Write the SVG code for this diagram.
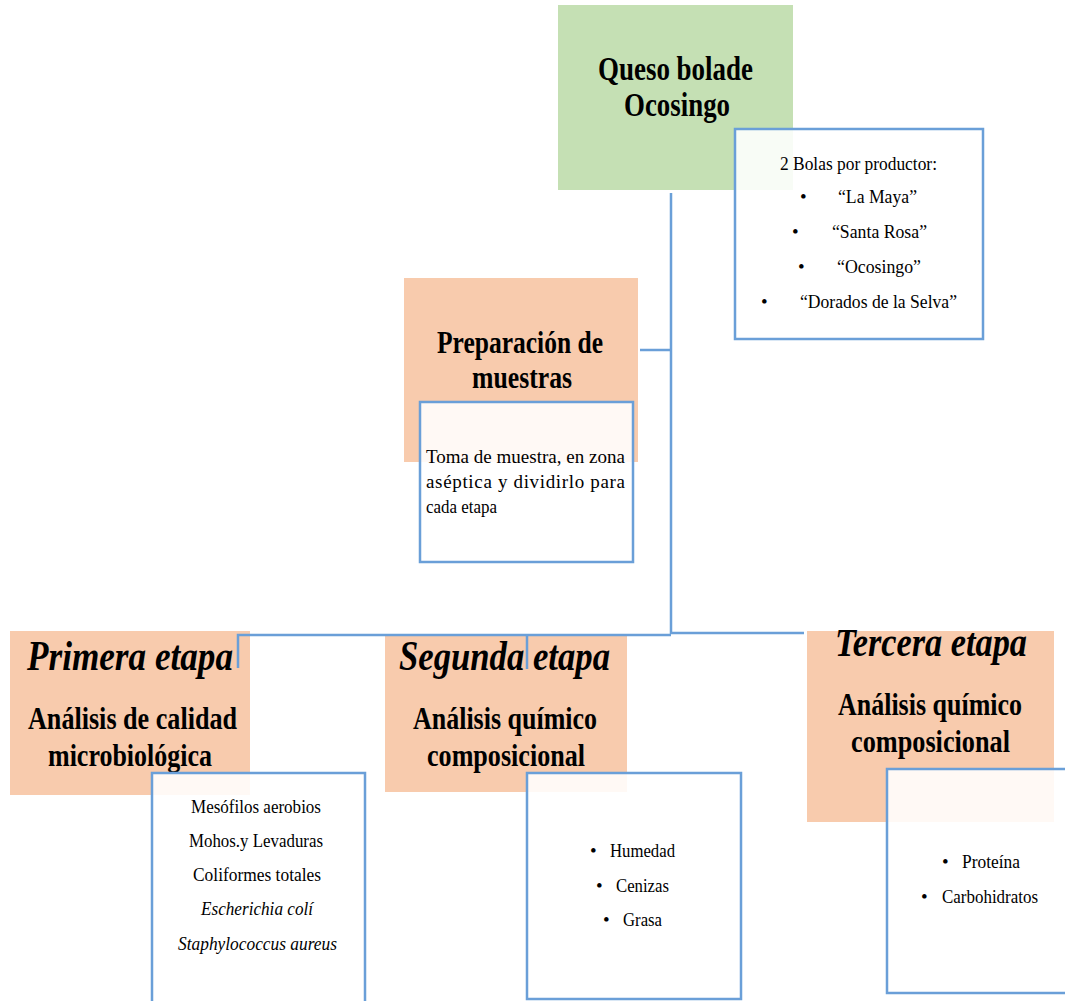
<svg xmlns="http://www.w3.org/2000/svg" width="1065" height="1001" viewBox="0 0 1065 1001">
<style>
.green{fill:#C5E0B4}
.peach{fill:#F8CBAD}
.info{fill:#FFFFFF;fill-opacity:0.88;stroke:#6A9FD8;stroke-width:2.5}
.conn{fill:none;stroke:#6A9FD8;stroke-width:2.5}
text{font-family:"Liberation Serif","Times New Roman",serif;fill:#000}
.t{font-weight:bold;font-size:34px}
.s{font-weight:bold;font-size:32px}
.e{font-weight:bold;font-style:italic;font-size:42px}
.b{font-size:19px}
.bi{font-size:19px;font-style:italic}
</style>
<rect width="1065" height="1001" fill="#FFFFFF"/>
<g id="queso">
<rect class="green" x="558" y="5" width="235" height="185"/>
<text class="t" x="598" y="80" textLength="155" lengthAdjust="spacingAndGlyphs">Queso bolade</text>
<text class="t" x="624" y="116" textLength="106" lengthAdjust="spacingAndGlyphs">Ocosingo</text>
</g>
<g id="productores">
<rect class="info" x="735" y="129" width="248" height="210"/>
<text class="b" x="780" y="170" textLength="157" lengthAdjust="spacingAndGlyphs">2 Bolas por productor:</text>
<text class="b" x="800" y="203">•</text>
<text class="b" x="838" y="203" textLength="79" lengthAdjust="spacingAndGlyphs">“La Maya”</text>
<text class="b" x="792" y="238">•</text>
<text class="b" x="832" y="238" textLength="95" lengthAdjust="spacingAndGlyphs">“Santa Rosa”</text>
<text class="b" x="798" y="273">•</text>
<text class="b" x="837" y="273" textLength="84" lengthAdjust="spacingAndGlyphs">“Ocosingo”</text>
<text class="b" x="761" y="308">•</text>
<text class="b" x="800" y="308" textLength="157" lengthAdjust="spacingAndGlyphs">“Dorados de la Selva”</text>
</g>
<g id="preparacion">
<rect class="peach" x="404" y="278" width="234" height="184"/>
<text class="s" x="437" y="353" textLength="166" lengthAdjust="spacingAndGlyphs">Preparación de</text>
<text class="s" x="472" y="388" textLength="100" lengthAdjust="spacingAndGlyphs">muestras</text>
</g>
<g id="toma">
<rect class="info" x="420" y="402" width="213" height="160"/>
<text class="b" x="426" y="463" textLength="199" lengthAdjust="spacing">Toma de muestra, en zona</text>
<text class="b" x="426" y="488" textLength="199" lengthAdjust="spacing">aséptica y dividirlo para</text>
<text class="b" x="426" y="513" textLength="71" lengthAdjust="spacingAndGlyphs">cada etapa</text>
</g>
<g id="primera">
<rect class="peach" x="10" y="631" width="240" height="164"/>
<text class="e" x="27" y="670" textLength="206" lengthAdjust="spacingAndGlyphs">Primera etapa</text>
<text class="s" x="28" y="729" textLength="209" lengthAdjust="spacingAndGlyphs">Análisis de calidad</text>
<text class="s" x="48" y="766" textLength="164" lengthAdjust="spacingAndGlyphs">microbiológica</text>
</g>
<g id="microbiologia">
<rect class="info" x="152" y="773" width="213" height="240"/>
<text class="b" x="191" y="813" textLength="130" lengthAdjust="spacingAndGlyphs">Mesófilos aerobios</text>
<text class="b" x="189" y="847" textLength="134" lengthAdjust="spacingAndGlyphs">Mohos.y Levaduras</text>
<text class="b" x="193" y="881" textLength="128" lengthAdjust="spacingAndGlyphs">Coliformes totales</text>
<text class="bi" x="201" y="915" textLength="112" lengthAdjust="spacingAndGlyphs">Escherichia colí</text>
<text class="bi" x="178" y="950" textLength="159" lengthAdjust="spacingAndGlyphs">Staphylococcus aureus</text>
</g>
<g id="segunda">
<rect class="peach" x="385" y="635" width="242" height="157"/>
<text class="e" x="399" y="670" textLength="211" lengthAdjust="spacingAndGlyphs">Segunda etapa</text>
<text class="s" x="413" y="729" textLength="184" lengthAdjust="spacingAndGlyphs">Análisis químico</text>
<text class="s" x="427" y="766" textLength="158" lengthAdjust="spacingAndGlyphs">composicional</text>
</g>
<g id="quimico1">
<rect class="info" x="527" y="773" width="214" height="226"/>
<text class="b" x="590" y="857">•</text>
<text class="b" x="610" y="857" textLength="65" lengthAdjust="spacingAndGlyphs">Humedad</text>
<text class="b" x="596" y="892">•</text>
<text class="b" x="616" y="892" textLength="53" lengthAdjust="spacingAndGlyphs">Cenizas</text>
<text class="b" x="603" y="926">•</text>
<text class="b" x="623" y="926" textLength="39" lengthAdjust="spacingAndGlyphs">Grasa</text>
</g>
<g id="tercera">
<rect class="peach" x="807" y="631" width="247" height="191"/>
<text class="e" x="835" y="656" textLength="192" lengthAdjust="spacingAndGlyphs" style="font-size:40px">Tercera etapa</text>
<text class="s" x="838" y="715" textLength="184" lengthAdjust="spacingAndGlyphs">Análisis químico</text>
<text class="s" x="851" y="752" textLength="159" lengthAdjust="spacingAndGlyphs">composicional</text>
</g>
<g id="quimico2">
<rect class="info" x="887" y="769" width="190" height="224"/>
<text class="b" x="942" y="868">•</text>
<text class="b" x="962" y="868" textLength="58" lengthAdjust="spacingAndGlyphs">Proteína</text>
<text class="b" x="921" y="903">•</text>
<text class="b" x="942" y="903" textLength="96" lengthAdjust="spacingAndGlyphs">Carbohidratos</text>
</g>
<g id="connectors">
<path class="conn" d="M671,193 V634"/>
<path class="conn" d="M640,350 H671"/>
<path class="conn" d="M238,668 V635 H671"/>
<path class="conn" d="M671,633 H804"/>
<path class="conn" d="M527,635 V669"/>
</g>
</svg>
